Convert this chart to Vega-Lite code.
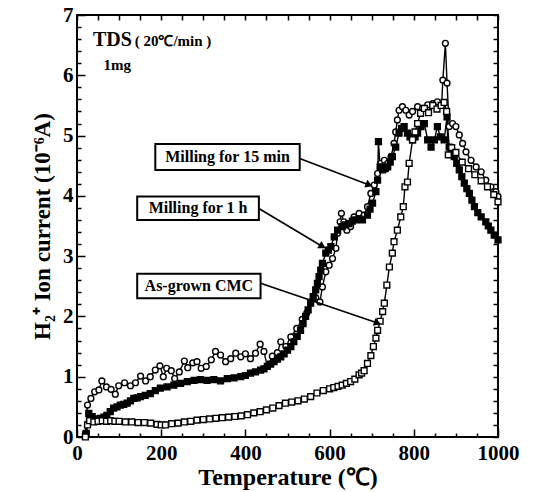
{
  "$schema": "https://vega.github.io/schema/vega-lite/v6.json",
  "width": 421,
  "height": 422,
  "autosize": "none",
  "padding": {"left": 77, "top": 15, "right": 47, "bottom": 55},
  "background": "white",
  "config": {
    "view": {"stroke": "black", "strokeWidth": 2},
    "font": "Liberation Serif",
    "axis": {"labelFont": "Liberation Serif", "titleFont": "Liberation Serif", "labelColor": "black", "titleColor": "black", "domainColor": "black", "tickColor": "black", "tickWidth": 1.5, "grid": false, "labelOverlap": false}
  },
  "datasets": {
    "curves": [
      {"series": "15min", "T": 20, "I": 0.06}, {"series": "15min", "T": 25, "I": 0.53}, {"series": "15min", "T": 33, "I": 0.64}, {"series": "15min", "T": 42, "I": 0.75}, {"series": "15min", "T": 52, "I": 0.78}, {"series": "15min", "T": 59, "I": 0.93}, {"series": "15min", "T": 70, "I": 0.83}, {"series": "15min", "T": 81, "I": 0.79}, {"series": "15min", "T": 91, "I": 0.71}, {"series": "15min", "T": 99, "I": 0.85}, {"series": "15min", "T": 113, "I": 0.9}, {"series": "15min", "T": 127, "I": 0.85}, {"series": "15min", "T": 139, "I": 0.9}, {"series": "15min", "T": 151, "I": 1.01}, {"series": "15min", "T": 163, "I": 0.93}, {"series": "15min", "T": 174, "I": 1.0}, {"series": "15min", "T": 186, "I": 1.11}, {"series": "15min", "T": 197, "I": 1.18}, {"series": "15min", "T": 205, "I": 1.0}, {"series": "15min", "T": 213, "I": 1.14}, {"series": "15min", "T": 224, "I": 1.1}, {"series": "15min", "T": 232, "I": 0.97}, {"series": "15min", "T": 243, "I": 1.08}, {"series": "15min", "T": 255, "I": 1.26}, {"series": "15min", "T": 263, "I": 1.15}, {"series": "15min", "T": 275, "I": 1.23}, {"series": "15min", "T": 285, "I": 1.25}, {"series": "15min", "T": 295, "I": 1.14}, {"series": "15min", "T": 307, "I": 1.17}, {"series": "15min", "T": 319, "I": 1.28}, {"series": "15min", "T": 329, "I": 1.42}, {"series": "15min", "T": 341, "I": 1.36}, {"series": "15min", "T": 353, "I": 1.25}, {"series": "15min", "T": 365, "I": 1.3}, {"series": "15min", "T": 377, "I": 1.39}, {"series": "15min", "T": 389, "I": 1.33}, {"series": "15min", "T": 400, "I": 1.38}, {"series": "15min", "T": 412, "I": 1.3}, {"series": "15min", "T": 424, "I": 1.39}, {"series": "15min", "T": 435, "I": 1.54}, {"series": "15min", "T": 444, "I": 1.42}, {"series": "15min", "T": 452, "I": 1.17}, {"series": "15min", "T": 464, "I": 1.34}, {"series": "15min", "T": 476, "I": 1.4}, {"series": "15min", "T": 484, "I": 1.58}, {"series": "15min", "T": 496, "I": 1.5}, {"series": "15min", "T": 508, "I": 1.66}, {"series": "15min", "T": 522, "I": 1.8}, {"series": "15min", "T": 535, "I": 1.95}, {"series": "15min", "T": 546, "I": 2.06}, {"series": "15min", "T": 555, "I": 2.24}, {"series": "15min", "T": 567, "I": 2.31}, {"series": "15min", "T": 577, "I": 2.24}, {"series": "15min", "T": 583, "I": 2.49}, {"series": "15min", "T": 591, "I": 2.74}, {"series": "15min", "T": 599, "I": 2.85}, {"series": "15min", "T": 607, "I": 2.96}, {"series": "15min", "T": 615, "I": 3.13}, {"series": "15min", "T": 619, "I": 3.38}, {"series": "15min", "T": 625, "I": 3.57}, {"series": "15min", "T": 628, "I": 3.71}, {"series": "15min", "T": 634, "I": 3.57}, {"series": "15min", "T": 641, "I": 3.43}, {"series": "15min", "T": 650, "I": 3.49}, {"series": "15min", "T": 658, "I": 3.65}, {"series": "15min", "T": 670, "I": 3.71}, {"series": "15min", "T": 682, "I": 3.68}, {"series": "15min", "T": 690, "I": 3.82}, {"series": "15min", "T": 698, "I": 4.04}, {"series": "15min", "T": 706, "I": 4.18}, {"series": "15min", "T": 714, "I": 4.37}, {"series": "15min", "T": 722, "I": 4.54}, {"series": "15min", "T": 730, "I": 4.59}, {"series": "15min", "T": 738, "I": 4.54}, {"series": "15min", "T": 746, "I": 4.65}, {"series": "15min", "T": 753, "I": 4.87}, {"series": "15min", "T": 757, "I": 5.06}, {"series": "15min", "T": 761, "I": 5.26}, {"series": "15min", "T": 765, "I": 5.42}, {"series": "15min", "T": 773, "I": 5.48}, {"series": "15min", "T": 781, "I": 5.42}, {"series": "15min", "T": 789, "I": 5.34}, {"series": "15min", "T": 797, "I": 5.4}, {"series": "15min", "T": 809, "I": 5.48}, {"series": "15min", "T": 821, "I": 5.45}, {"series": "15min", "T": 833, "I": 5.51}, {"series": "15min", "T": 845, "I": 5.53}, {"series": "15min", "T": 856, "I": 5.56}, {"series": "15min", "T": 866, "I": 5.5}, {"series": "15min", "T": 869, "I": 5.92}, {"series": "15min", "T": 875, "I": 6.53}, {"series": "15min", "T": 879, "I": 5.87}, {"series": "15min", "T": 884, "I": 5.15}, {"series": "15min", "T": 892, "I": 5.2}, {"series": "15min", "T": 900, "I": 5.15}, {"series": "15min", "T": 908, "I": 5.01}, {"series": "15min", "T": 916, "I": 4.87}, {"series": "15min", "T": 924, "I": 4.73}, {"series": "15min", "T": 936, "I": 4.59}, {"series": "15min", "T": 948, "I": 4.48}, {"series": "15min", "T": 960, "I": 4.4}, {"series": "15min", "T": 971, "I": 4.26}, {"series": "15min", "T": 983, "I": 4.15}, {"series": "15min", "T": 995, "I": 4.07}, {"series": "15min", "T": 1000, "I": 3.99},
      {"series": "1h", "T": 22, "I": 0.06}, {"series": "1h", "T": 28, "I": 0.39}, {"series": "1h", "T": 36, "I": 0.34}, {"series": "1h", "T": 46, "I": 0.3}, {"series": "1h", "T": 56, "I": 0.31}, {"series": "1h", "T": 64, "I": 0.33}, {"series": "1h", "T": 71, "I": 0.36}, {"series": "1h", "T": 79, "I": 0.42}, {"series": "1h", "T": 87, "I": 0.48}, {"series": "1h", "T": 95, "I": 0.5}, {"series": "1h", "T": 103, "I": 0.53}, {"series": "1h", "T": 111, "I": 0.54}, {"series": "1h", "T": 119, "I": 0.56}, {"series": "1h", "T": 127, "I": 0.6}, {"series": "1h", "T": 135, "I": 0.64}, {"series": "1h", "T": 143, "I": 0.65}, {"series": "1h", "T": 151, "I": 0.67}, {"series": "1h", "T": 162, "I": 0.69}, {"series": "1h", "T": 174, "I": 0.72}, {"series": "1h", "T": 186, "I": 0.77}, {"series": "1h", "T": 198, "I": 0.81}, {"series": "1h", "T": 214, "I": 0.83}, {"series": "1h", "T": 230, "I": 0.86}, {"series": "1h", "T": 246, "I": 0.89}, {"series": "1h", "T": 262, "I": 0.92}, {"series": "1h", "T": 278, "I": 0.94}, {"series": "1h", "T": 293, "I": 0.95}, {"series": "1h", "T": 309, "I": 0.94}, {"series": "1h", "T": 325, "I": 0.95}, {"series": "1h", "T": 341, "I": 0.93}, {"series": "1h", "T": 357, "I": 0.97}, {"series": "1h", "T": 373, "I": 0.98}, {"series": "1h", "T": 389, "I": 1.0}, {"series": "1h", "T": 400, "I": 1.02}, {"series": "1h", "T": 412, "I": 1.06}, {"series": "1h", "T": 424, "I": 1.08}, {"series": "1h", "T": 436, "I": 1.11}, {"series": "1h", "T": 444, "I": 1.13}, {"series": "1h", "T": 452, "I": 1.17}, {"series": "1h", "T": 460, "I": 1.21}, {"series": "1h", "T": 468, "I": 1.25}, {"series": "1h", "T": 476, "I": 1.29}, {"series": "1h", "T": 484, "I": 1.33}, {"series": "1h", "T": 492, "I": 1.38}, {"series": "1h", "T": 500, "I": 1.44}, {"series": "1h", "T": 508, "I": 1.5}, {"series": "1h", "T": 515, "I": 1.58}, {"series": "1h", "T": 523, "I": 1.67}, {"series": "1h", "T": 531, "I": 1.77}, {"series": "1h", "T": 537, "I": 1.88}, {"series": "1h", "T": 543, "I": 2.0}, {"series": "1h", "T": 549, "I": 2.11}, {"series": "1h", "T": 555, "I": 2.22}, {"series": "1h", "T": 561, "I": 2.33}, {"series": "1h", "T": 567, "I": 2.44}, {"series": "1h", "T": 571, "I": 2.55}, {"series": "1h", "T": 575, "I": 2.66}, {"series": "1h", "T": 579, "I": 2.77}, {"series": "1h", "T": 583, "I": 2.88}, {"series": "1h", "T": 591, "I": 3.05}, {"series": "1h", "T": 597, "I": 3.1}, {"series": "1h", "T": 603, "I": 3.16}, {"series": "1h", "T": 611, "I": 3.32}, {"series": "1h", "T": 619, "I": 3.43}, {"series": "1h", "T": 630, "I": 3.49}, {"series": "1h", "T": 638, "I": 3.52}, {"series": "1h", "T": 646, "I": 3.54}, {"series": "1h", "T": 654, "I": 3.58}, {"series": "1h", "T": 662, "I": 3.6}, {"series": "1h", "T": 670, "I": 3.62}, {"series": "1h", "T": 678, "I": 3.6}, {"series": "1h", "T": 690, "I": 3.68}, {"series": "1h", "T": 696, "I": 3.78}, {"series": "1h", "T": 702, "I": 3.88}, {"series": "1h", "T": 710, "I": 4.07}, {"series": "1h", "T": 714, "I": 4.26}, {"series": "1h", "T": 716, "I": 4.9}, {"series": "1h", "T": 720, "I": 4.48}, {"series": "1h", "T": 726, "I": 4.43}, {"series": "1h", "T": 732, "I": 4.45}, {"series": "1h", "T": 738, "I": 4.48}, {"series": "1h", "T": 744, "I": 4.56}, {"series": "1h", "T": 749, "I": 4.65}, {"series": "1h", "T": 757, "I": 4.81}, {"series": "1h", "T": 765, "I": 5.04}, {"series": "1h", "T": 771, "I": 5.12}, {"series": "1h", "T": 777, "I": 5.15}, {"series": "1h", "T": 785, "I": 5.04}, {"series": "1h", "T": 791, "I": 4.98}, {"series": "1h", "T": 797, "I": 4.93}, {"series": "1h", "T": 803, "I": 4.98}, {"series": "1h", "T": 809, "I": 5.04}, {"series": "1h", "T": 817, "I": 5.15}, {"series": "1h", "T": 825, "I": 5.2}, {"series": "1h", "T": 833, "I": 4.93}, {"series": "1h", "T": 841, "I": 4.81}, {"series": "1h", "T": 849, "I": 4.93}, {"series": "1h", "T": 856, "I": 5.15}, {"series": "1h", "T": 863, "I": 4.98}, {"series": "1h", "T": 872, "I": 4.93}, {"series": "1h", "T": 879, "I": 5.31}, {"series": "1h", "T": 884, "I": 4.81}, {"series": "1h", "T": 890, "I": 4.73}, {"series": "1h", "T": 896, "I": 4.65}, {"series": "1h", "T": 902, "I": 4.54}, {"series": "1h", "T": 908, "I": 4.43}, {"series": "1h", "T": 914, "I": 4.32}, {"series": "1h", "T": 920, "I": 4.21}, {"series": "1h", "T": 926, "I": 4.12}, {"series": "1h", "T": 932, "I": 4.04}, {"series": "1h", "T": 938, "I": 3.93}, {"series": "1h", "T": 944, "I": 3.82}, {"series": "1h", "T": 952, "I": 3.72}, {"series": "1h", "T": 960, "I": 3.65}, {"series": "1h", "T": 971, "I": 3.57}, {"series": "1h", "T": 977, "I": 3.5}, {"series": "1h", "T": 983, "I": 3.43}, {"series": "1h", "T": 991, "I": 3.35}, {"series": "1h", "T": 1000, "I": 3.27},
      {"series": "asgrown", "T": 20, "I": 0.0}, {"series": "asgrown", "T": 25, "I": 0.2}, {"series": "asgrown", "T": 30, "I": 0.27}, {"series": "asgrown", "T": 40, "I": 0.25}, {"series": "asgrown", "T": 50, "I": 0.26}, {"series": "asgrown", "T": 60, "I": 0.27}, {"series": "asgrown", "T": 70, "I": 0.26}, {"series": "asgrown", "T": 80, "I": 0.27}, {"series": "asgrown", "T": 90, "I": 0.26}, {"series": "asgrown", "T": 100, "I": 0.26}, {"series": "asgrown", "T": 115, "I": 0.25}, {"series": "asgrown", "T": 130, "I": 0.25}, {"series": "asgrown", "T": 145, "I": 0.24}, {"series": "asgrown", "T": 160, "I": 0.24}, {"series": "asgrown", "T": 175, "I": 0.23}, {"series": "asgrown", "T": 190, "I": 0.21}, {"series": "asgrown", "T": 200, "I": 0.2}, {"series": "asgrown", "T": 210, "I": 0.2}, {"series": "asgrown", "T": 225, "I": 0.22}, {"series": "asgrown", "T": 240, "I": 0.23}, {"series": "asgrown", "T": 255, "I": 0.25}, {"series": "asgrown", "T": 270, "I": 0.26}, {"series": "asgrown", "T": 285, "I": 0.28}, {"series": "asgrown", "T": 300, "I": 0.29}, {"series": "asgrown", "T": 315, "I": 0.3}, {"series": "asgrown", "T": 330, "I": 0.31}, {"series": "asgrown", "T": 345, "I": 0.32}, {"series": "asgrown", "T": 360, "I": 0.33}, {"series": "asgrown", "T": 375, "I": 0.34}, {"series": "asgrown", "T": 390, "I": 0.35}, {"series": "asgrown", "T": 405, "I": 0.37}, {"series": "asgrown", "T": 420, "I": 0.4}, {"series": "asgrown", "T": 435, "I": 0.42}, {"series": "asgrown", "T": 450, "I": 0.45}, {"series": "asgrown", "T": 465, "I": 0.48}, {"series": "asgrown", "T": 480, "I": 0.52}, {"series": "asgrown", "T": 495, "I": 0.56}, {"series": "asgrown", "T": 510, "I": 0.58}, {"series": "asgrown", "T": 525, "I": 0.6}, {"series": "asgrown", "T": 540, "I": 0.63}, {"series": "asgrown", "T": 555, "I": 0.67}, {"series": "asgrown", "T": 570, "I": 0.73}, {"series": "asgrown", "T": 585, "I": 0.77}, {"series": "asgrown", "T": 600, "I": 0.8}, {"series": "asgrown", "T": 610, "I": 0.82}, {"series": "asgrown", "T": 620, "I": 0.84}, {"series": "asgrown", "T": 630, "I": 0.86}, {"series": "asgrown", "T": 640, "I": 0.89}, {"series": "asgrown", "T": 650, "I": 0.92}, {"series": "asgrown", "T": 660, "I": 0.96}, {"series": "asgrown", "T": 670, "I": 1.03}, {"series": "asgrown", "T": 676, "I": 1.06}, {"series": "asgrown", "T": 682, "I": 1.1}, {"series": "asgrown", "T": 690, "I": 1.22}, {"series": "asgrown", "T": 698, "I": 1.35}, {"series": "asgrown", "T": 704, "I": 1.5}, {"series": "asgrown", "T": 710, "I": 1.64}, {"series": "asgrown", "T": 714, "I": 1.77}, {"series": "asgrown", "T": 720, "I": 1.92}, {"series": "asgrown", "T": 726, "I": 2.08}, {"series": "asgrown", "T": 730, "I": 2.22}, {"series": "asgrown", "T": 736, "I": 2.52}, {"series": "asgrown", "T": 742, "I": 2.82}, {"series": "asgrown", "T": 749, "I": 3.05}, {"series": "asgrown", "T": 753, "I": 3.24}, {"series": "asgrown", "T": 761, "I": 3.43}, {"series": "asgrown", "T": 769, "I": 3.65}, {"series": "asgrown", "T": 775, "I": 3.82}, {"series": "asgrown", "T": 779, "I": 4.15}, {"series": "asgrown", "T": 785, "I": 4.23}, {"series": "asgrown", "T": 789, "I": 4.54}, {"series": "asgrown", "T": 797, "I": 4.93}, {"series": "asgrown", "T": 803, "I": 5.06}, {"series": "asgrown", "T": 809, "I": 5.2}, {"series": "asgrown", "T": 816, "I": 5.37}, {"series": "asgrown", "T": 825, "I": 5.45}, {"series": "asgrown", "T": 835, "I": 5.38}, {"series": "asgrown", "T": 845, "I": 5.5}, {"series": "asgrown", "T": 855, "I": 5.44}, {"series": "asgrown", "T": 865, "I": 5.5}, {"series": "asgrown", "T": 872, "I": 5.55}, {"series": "asgrown", "T": 878, "I": 5.4}, {"series": "asgrown", "T": 882, "I": 4.68}, {"series": "asgrown", "T": 890, "I": 4.8}, {"series": "asgrown", "T": 900, "I": 4.72}, {"series": "asgrown", "T": 915, "I": 4.56}, {"series": "asgrown", "T": 930, "I": 4.45}, {"series": "asgrown", "T": 945, "I": 4.35}, {"series": "asgrown", "T": 960, "I": 4.25}, {"series": "asgrown", "T": 975, "I": 4.15}, {"series": "asgrown", "T": 990, "I": 4.02}, {"series": "asgrown", "T": 1000, "I": 3.9}
    ],
    "boxes": [
      {"label": "Milling for 15 min", "T1": 186, "T2": 529, "I1": 4.43, "I2": 4.86},
      {"label": "Milling for 1 h", "T1": 143, "T2": 432, "I1": 3.6, "I2": 3.99},
      {"label": "As-grown CMC", "T1": 143, "T2": 436, "I1": 2.3, "I2": 2.71}
    ],
    "arrows": [
      {"label": "Milling for 15 min", "T1": 529, "I1": 4.62, "T2": 694, "I2": 4.18},
      {"label": "Milling for 1 h", "T1": 432, "I1": 3.79, "T2": 583, "I2": 3.16},
      {"label": "As-grown CMC", "T1": 436, "I1": 2.55, "T2": 714, "I2": 1.89}
    ],
    "notes": [
      {"text": "TDS", "T": 38, "I": 6.48, "size": "big"},
      {"text": "( 20℃/min )", "T": 137, "I": 6.48, "size": "small"},
      {"text": "1mg", "T": 63, "I": 6.09, "size": "small"}
    ]
  },
  "layer": [
    {
      "layer": [
        {
          "data": {"name": "curves"},
          "mark": {"type": "line", "color": "black", "strokeWidth": 1.4},
          "encoding": {
            "x": {"field": "T", "type": "quantitative", "scale": {"domain": [0, 1000], "nice": false, "zero": false},
              "axis": {"title": "Temperature (℃)", "titleFontSize": 24, "titleFontWeight": "bold", "titlePadding": 2, "labelFontSize": 21, "labelFontWeight": "bold", "values": [0, 200, 400, 600, 800, 1000], "format": "d", "labelFlush": false, "tickSize": -8, "labelPadding": 13, "domain": false}},
            "y": {"field": "I", "type": "quantitative", "scale": {"domain": [0, 7], "nice": false, "zero": false},
              "axis": {"title": "H₂⁺ Ion current (10⁻⁶A)", "titleFontSize": 23, "titleFontWeight": "bold", "titlePadding": 8, "labelFontSize": 21, "labelFontWeight": "bold", "values": [0, 1, 2, 3, 4, 5, 6, 7], "format": "d", "labelFlush": false, "tickSize": -8, "labelPadding": 12, "domain": false}},
            "detail": {"field": "series"}
          }
        },
        {
          "data": {"name": "curves"},
          "mark": {"type": "point", "stroke": "black", "strokeWidth": 1.4, "opacity": 1, "size": 34, "filled": false},
          "encoding": {
            "x": {"field": "T", "type": "quantitative"},
            "y": {"field": "I", "type": "quantitative"},
            "shape": {"field": "series", "type": "nominal", "scale": {"domain": ["15min", "1h", "asgrown"], "range": ["circle", "square", "square"]}, "legend": null},
            "fill": {"field": "series", "type": "nominal", "scale": {"domain": ["15min", "1h", "asgrown"], "range": ["white", "black", "white"]}, "legend": null}
          }
        },
        {
          "data": {"name": "arrows"},
          "mark": {"type": "rule", "color": "black", "strokeWidth": 1.6},
          "encoding": {
            "x": {"field": "T1", "type": "quantitative"}, "y": {"field": "I1", "type": "quantitative"},
            "x2": {"field": "T2"}, "y2": {"field": "I2"}
          }
        },
        {
          "data": {"name": "arrows"},
          "transform": [{"filter": "datum.label === 'Milling for 15 min'"}],
          "mark": {"type": "point", "shape": "triangle-right", "filled": true, "color": "black", "size": 70, "angle": 21, "opacity": 1},
          "encoding": {"x": {"field": "T2", "type": "quantitative"}, "y": {"field": "I2", "type": "quantitative"}}
        },
        {
          "data": {"name": "arrows"},
          "transform": [{"filter": "datum.label === 'Milling for 1 h'"}],
          "mark": {"type": "point", "shape": "triangle-right", "filled": true, "color": "black", "size": 70, "angle": 31, "opacity": 1},
          "encoding": {"x": {"field": "T2", "type": "quantitative"}, "y": {"field": "I2", "type": "quantitative"}}
        },
        {
          "data": {"name": "arrows"},
          "transform": [{"filter": "datum.label === 'As-grown CMC'"}],
          "mark": {"type": "point", "shape": "triangle-right", "filled": true, "color": "black", "size": 70, "angle": 19, "opacity": 1},
          "encoding": {"x": {"field": "T2", "type": "quantitative"}, "y": {"field": "I2", "type": "quantitative"}}
        },
        {
          "data": {"name": "boxes"},
          "mark": {"type": "rect", "fill": "white", "stroke": "black", "strokeWidth": 2},
          "encoding": {
            "x": {"field": "T1", "type": "quantitative"}, "x2": {"field": "T2"},
            "y": {"field": "I1", "type": "quantitative"}, "y2": {"field": "I2"}
          }
        },
        {
          "data": {"name": "boxes"},
          "transform": [{"calculate": "(datum.T1 + datum.T2) / 2", "as": "Tc"}, {"calculate": "(datum.I1 + datum.I2) / 2", "as": "Ic"}],
          "mark": {"type": "text", "font": "Liberation Serif", "fontWeight": "bold", "fontSize": 16, "color": "black", "align": "center", "baseline": "middle"},
          "encoding": {
            "x": {"field": "Tc", "type": "quantitative"}, "y": {"field": "Ic", "type": "quantitative"},
            "text": {"field": "label"}
          }
        },
        {
          "data": {"name": "notes"},
          "mark": {"type": "text", "font": "Liberation Serif", "fontWeight": "bold", "color": "black", "align": "left", "baseline": "alphabetic"},
          "encoding": {
            "x": {"field": "T", "type": "quantitative"}, "y": {"field": "I", "type": "quantitative"},
            "text": {"field": "text"},
            "size": {"field": "size", "type": "nominal", "scale": {"domain": ["big", "small"], "range": [20, 15]}, "legend": null}
          }
        }
      ]
    },
    {
      "data": {"name": "curves"},
      "mark": {"type": "point", "opacity": 0},
      "encoding": {
        "x": {"field": "T", "type": "quantitative", "axis": {"orient": "bottom", "title": null, "labels": false, "domain": false, "values": [50,100,150,250,300,350,450,500,550,650,700,750,850,900,950], "tickSize": -4}},
        "y": {"field": "I", "type": "quantitative", "axis": {"orient": "left", "title": null, "labels": false, "domain": false, "values": [0.2,0.4,0.6,0.8,1.2,1.4,1.6,1.8,2.2,2.4,2.6,2.8,3.2,3.4,3.6,3.8,4.2,4.4,4.6,4.8,5.2,5.4,5.6,5.8,6.2,6.4,6.6,6.8], "tickSize": -4}}
      }
    },
    {
      "data": {"name": "curves"},
      "mark": {"type": "point", "opacity": 0},
      "encoding": {
        "x": {"field": "T", "type": "quantitative", "axis": {"orient": "top", "title": null, "labels": false, "domain": false, "values": [0,50,100,150,200,250,300,350,400,450,500,550,600,650,700,750,800,850,900,950,1000], "tickSize": -5}},
        "y": {"field": "I", "type": "quantitative", "axis": {"orient": "right", "title": null, "labels": false, "domain": false, "values": [0,0.2,0.4,0.6,0.8,1,1.2,1.4,1.6,1.8,2,2.2,2.4,2.6,2.8,3,3.2,3.4,3.6,3.8,4,4.2,4.4,4.6,4.8,5,5.2,5.4,5.6,5.8,6,6.2,6.4,6.6,6.8,7], "tickSize": -5}}
      }
    }
  ],
  "resolve": {"axis": {"x": "independent", "y": "independent"}}
}
